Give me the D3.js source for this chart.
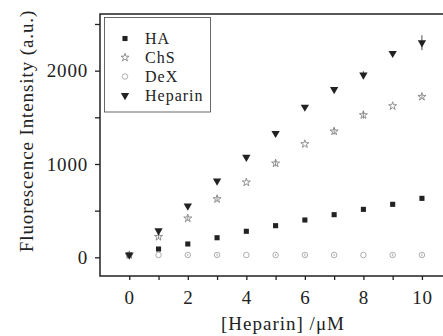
<html>
  <head>
    <title>Fluorescence vs Heparin</title>
    <style>
      body { margin: 0; background: #fff; }
      text { font-family: "Liberation Serif", "DejaVu Serif", serif; fill: #222; }
    </style>
  </head>
  <body>
    <script src="https://d3js.org/d3.v7.min.js"></script>
    <script>
      (function() {
        var WIDTH = 443, HEIGHT = 336;

        // Data
        var conc = [0, 1, 2, 3, 4, 5, 6, 7, 8, 9, 10];
        var haValues = [25, 89, 143, 210, 279, 339, 400, 457, 514, 568, 632];
        var haErrors = [0, 0, 0, 0, 0, 0, 0, 0, 0, 10, 25];
        var chsValues = [25, 220, 418, 625, 804, 1007, 1214, 1350, 1525, 1621, 1721];
        var chsErrors = [0, 20, 20, 25, 0, 30, 0, 35, 40, 0, 20];
        var dexValues = [25, 25, 25, 25, 25, 25, 25, 25, 25, 25, 25];
        var dexErrors = [0, 0, 10, 15, 0, 12, 15, 10, 0, 15, 15];
        var hepValues = [25, 285, 550, 818, 1072, 1329, 1610, 1800, 1954, 2186, 2300];
        var hepErrors = [0, 0, 0, 0, 0, 0, 0, 0, 40, 0, 80];
        var seriesNames = ['HA', 'ChS', 'DeX', 'Heparin'];
        var xTicks = [0, 2, 4, 6, 8, 10];
        var yTicks = [0, 1000, 2000];

        var x = d3.scaleLinear().domain([-1, 11]).range([100, 451.2]);
        var y = d3.scaleLinear().domain([-200, 2607]).range([276, 14]);

        var svg = d3.select('body').append('svg')
          .attr('width', WIDTH)
          .attr('height', HEIGHT);

        // Frame
        svg.append('rect')
          .attr('x', x(-1)).attr('y', y(2607))
          .attr('width', x(11) - x(-1)).attr('height', y(-200) - y(2607))
          .attr('fill', 'none').attr('stroke', '#222').attr('stroke-width', 1.5);

        // Axes with outward ticks
        var xAxis = d3.axisBottom(x).tickValues(d3.range(0, 11, 1)).tickSize(4)
          .tickFormat(function(d) { return xTicks.indexOf(d) >= 0 ? d : ''; });
        var gx = svg.append('g').attr('transform', 'translate(0,' + y(-200) + ')').call(xAxis);
        gx.select('.domain').remove();
        gx.selectAll('line').attr('stroke', '#222').attr('stroke-width', 1.3);
        gx.selectAll('text').attr('font-size', '19px').attr('letter-spacing', '0.8px')
          .attr('y', 15).attr('dy', '0.71em');

        var yAxis = d3.axisLeft(y).tickValues([0, 500, 1000, 1500, 2000, 2500]).tickSize(5)
          .tickFormat(function(d) { return yTicks.indexOf(d) >= 0 ? d : ''; });
        var gy = svg.append('g').attr('transform', 'translate(' + x(-1) + ',0)').call(yAxis);
        gy.select('.domain').remove();
        gy.selectAll('line').attr('stroke', '#222').attr('stroke-width', 1.3);
        gy.selectAll('text').attr('font-size', '19px').attr('letter-spacing', '0.8px')
          .attr('x', -12);

        // Axis labels
        svg.append('text')
          .attr('transform', 'translate(33,131) rotate(-90)')
          .attr('text-anchor', 'middle')
          .attr('font-size', '19px')
          .attr('letter-spacing', '0.9px')
          .text('Fluorescence Intensity (a.u.)');
        svg.append('text')
          .attr('x', 283).attr('y', 330)
          .attr('text-anchor', 'middle')
          .attr('font-size', '19px')
          .attr('letter-spacing', '1px')
          .text('[Heparin] /\u03bcM');

        // Symbols
        var symSquare = d3.symbol().type(d3.symbolSquare).size(26);
        var symStar = d3.symbol().type(d3.symbolStar).size(20);
        var symCircle = d3.symbol().type(d3.symbolCircle).size(24);
        var symTri = d3.symbol().type(d3.symbolTriangle).size(30);

        var series = [
          {name: seriesNames[0], values: haValues, errors: haErrors, path: symSquare(), fill: '#222', stroke: 'none', rot: 0},
          {name: seriesNames[1], values: chsValues, errors: chsErrors, path: symStar(), fill: 'none', stroke: '#777', rot: 0},
          {name: seriesNames[2], values: dexValues, errors: dexErrors, path: symCircle(), fill: 'none', stroke: '#999', rot: 0},
          {name: seriesNames[3], values: hepValues, errors: hepErrors, path: symTri(), fill: '#222', stroke: 'none', rot: 180}
        ];

        series.forEach(function(s) {
          var g = svg.append('g');
          var pts = conc.map(function(c, i) { return {c: c, v: s.values[i], e: s.errors[i]}; });
          // error bars
          g.selectAll('line.err').data(pts.filter(function(d) { return d.e > 0; }))
            .enter().append('line')
            .attr('x1', function(d) { return x(d.c); })
            .attr('x2', function(d) { return x(d.c); })
            .attr('y1', function(d) { return y(d.v - d.e); })
            .attr('y2', function(d) { return y(d.v + d.e); })
            .attr('stroke', s.stroke === 'none' ? '#222' : s.stroke)
            .attr('stroke-width', 0.8);
          g.selectAll('path').data(pts).enter().append('path')
            .attr('d', s.path)
            .attr('transform', function(d) {
              return 'translate(' + x(d.c) + ',' + y(d.v) + ') rotate(' + s.rot + ')';
            })
            .attr('fill', s.fill)
            .attr('stroke', s.stroke)
            .attr('stroke-width', 0.8);
        });

        // Legend
        var legend = svg.append('g');
        legend.append('rect')
          .attr('x', 104.5).attr('y', 17.5).attr('width', 106).attr('height', 94.5)
          .attr('fill', '#fff').attr('stroke', '#444').attr('stroke-width', 0.8);
        series.forEach(function(s, i) {
          var ly = 38.5 + i * 19;
          legend.append('path')
            .attr('d', s.path)
            .attr('transform', 'translate(125,' + ly + ') rotate(' + s.rot + ')')
            .attr('fill', s.fill)
            .attr('stroke', s.stroke)
            .attr('stroke-width', 0.8);
          legend.append('text')
            .attr('x', 145).attr('y', ly + 5.5)
            .attr('font-size', '16px')
            .attr('letter-spacing', '1px')
            .text(s.name);
        });
      })();
    </script>
  </body>
</html>
